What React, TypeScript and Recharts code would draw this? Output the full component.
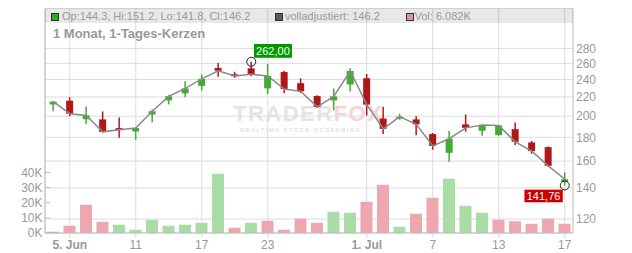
import React from 'react';
import { ComposedChart, Bar, Line, XAxis, YAxis, CartesianGrid, Cell, ReferenceDot, Text } from 'recharts';

// ---- data ----
const dates = [
  '2025-06-04', '2025-06-05', '2025-06-06', '2025-06-09', '2025-06-10', '2025-06-11', '2025-06-12', '2025-06-13',
  '2025-06-16', '2025-06-17', '2025-06-18', '2025-06-19', '2025-06-20', '2025-06-23', '2025-06-24', '2025-06-25',
  '2025-06-26', '2025-06-27', '2025-06-30', '2025-07-01', '2025-07-02', '2025-07-03', '2025-07-04', '2025-07-07',
  '2025-07-08', '2025-07-09', '2025-07-10', '2025-07-11', '2025-07-14', '2025-07-15', '2025-07-16', '2025-07-17',
];
const opens = [212, 216, 197, 196.8, 188.5, 185.4, 201.7, 216.3, 224, 232.5, 254, 246.2, 253.6, 229.6, 249, 235.6,
  221, 216.3, 234.1, 241.5, 197.7, 198.5, 196.8, 183, 166.7, 192, 186, 182, 187.5, 175.5, 171.5, 144.3];
const highs = [215.5, 219.6, 209.8, 204.7, 198.7, 189, 206.7, 222.5, 238, 246, 260.4, 249.4, 262, 259, 250.6, 241.5,
  222, 229.6, 253.6, 246.6, 209.6, 202.5, 200, 183.9, 185.7, 201.7, 192, 191.5, 193.9, 176.8, 172, 151.2];
const lows = [205, 200, 192.2, 184.5, 179.6, 178, 194.1, 212, 219.6, 227.3, 243.3, 242, 243.8, 223.3, 224, 224.4,
  208.3, 206, 226.2, 200.7, 183, 196.5, 182, 169.2, 159.5, 185, 181.4, 181.4, 173.4, 165.9, 155.5, 141.76];
const closes = [215, 202.5, 200.7, 185, 186.9, 188.5, 205, 220.7, 229.6, 240.7, 250.6, 244.2, 246.2, 244.2, 228.9, 226.2,
  209.4, 220.7, 250.3, 211.8, 187.8, 199.5, 192, 172.6, 178.8, 188.7, 191.5, 191, 176.1, 168.1, 156.3, 146.2];
const volumes = [900, 4800, 18700, 7500, 5500, 2200, 8800, 4800, 5500, 6800, 39100, 3500, 6800, 8100, 2200, 9400,
  6800, 14100, 13400, 20700, 31900, 4200, 12700, 23300, 35800, 18000, 13400, 8800, 7700, 6100, 9400, 6082];

const priceTicks = [120, 140, 160, 180, 200, 220, 240, 260, 280];
const volumeTicks = [0, 10000, 20000, 30000, 40000];
const tickDates = ['2025-06-05', '2025-06-11', '2025-06-17', '2025-06-23', '2025-07-01', '2025-07-07', '2025-07-11', '2025-07-17'];
const tickLabels = ['5. Jun', '11', '17', '23', '1. Jul', '7', '13', '17'];

const data = dates.map((date, i) => ({
  date,
  open: opens[i],
  high: highs[i],
  low: lows[i],
  close: closes[i],
  vol: volumes[i],
}));

// ---- styles ----
const FONT = "'Liberation Sans', Arial, sans-serif";
const GREEN = '#44a935';
const RED = '#b01818';
const VOL_GREEN = '#aadca6';
const VOL_RED = '#eea7af';
const VOL_NEUTRAL = '#b4b4b4';
const TEXT = '#999';

const volColor = (i: number) => {
  if (i === 0) return VOL_NEUTRAL;
  return closes[i] >= closes[i - 1] ? VOL_GREEN : VOL_RED;
};

const Candle = (props: any) => {
  const { x, y, width, height, payload } = props;
  if (x == null || y == null) return null;
  const { open, close, high, low } = payload;
  const yHigh = Math.min(y, y + height);
  const yLow = Math.max(y, y + height);
  const lh = Math.log(high);
  const ll = Math.log(low);
  const toY = (v: number) => yHigh + ((yLow - yHigh) * (lh - Math.log(v))) / (lh - ll);
  const cx = x + width / 2;
  const up = close >= open;
  const color = up ? GREEN : RED;
  const top = toY(Math.max(open, close));
  const bot = toY(Math.min(open, close));
  const bw = 7;
  return (
    <g>
      <line x1={cx} x2={cx} y1={yHigh} y2={yLow} stroke={color} strokeWidth={1.5} />
      <rect x={cx - bw / 2} y={top} width={bw} height={Math.max(bot - top, 2)} fill={color} />
    </g>
  );
};

const fmt = (v: number) => v.toFixed(2).replace('.', ',');

const maxIdx = highs.indexOf(Math.max(...highs));
const minIdx = lows.indexOf(Math.min(...lows));

const HiMarker = (p: any) => {
  const { cx, cy } = p;
  return (
    <g>
      <circle cx={cx} cy={cy} r={4.5} fill="none" stroke="#222" strokeWidth={1} />
      <rect x={cx + 2.7} y={cy - 17.8} width={38} height={13.8} fill="#009a00" />
      <text x={cx + 21.7} y={cy - 7} textAnchor="middle" fontSize={11} fill="#fff" fontFamily={FONT}>
        {fmt(highs[maxIdx])}
      </text>
    </g>
  );
};

const LoMarker = (p: any) => {
  const { cx, cy } = p;
  return (
    <g>
      <circle cx={cx} cy={cy} r={4.5} fill="none" stroke="#222" strokeWidth={1} />
      <rect x={cx - 40.3} y={cy + 4.2} width={38.3} height={12.6} fill="#cc0000" />
      <text x={cx - 21.2} y={cy + 14.3} textAnchor="middle" fontSize={11} fill="#fff" fontFamily={FONT}>
        {fmt(lows[minIdx])}
      </text>
    </g>
  );
};

const XTick = (props: any) => {
  const { x, y, payload, textAnchor, verticalAnchor } = props;
  const i = tickDates.indexOf(payload.value);
  const label = i >= 0 ? tickLabels[i] : '';
  const bold = label.includes('.');
  return (
    <Text x={x} y={y} textAnchor={textAnchor || 'middle'} verticalAnchor={verticalAnchor || 'start'}
      fontSize={12} fill={TEXT} fontWeight={bold ? 'bold' : 'normal'} fontFamily={FONT}>
      {label}
    </Text>
  );
};

const Square = ({ left, color }: { left: number; color: string }) => (
  <div style={{ position: 'absolute', left, top: 12.5, width: 6, height: 6, background: color, border: '1px solid #333' }} />
);

export default function App() {
  const W = 632;
  const H = 253;
  return (
    <div style={{ position: 'absolute', left: 0, top: 0, width: W, height: H, background: '#fff', fontFamily: FONT, overflow: 'hidden' }}>
      {/* watermark */}
      <div style={{ position: 'absolute', left: 233, top: 102, height: 24, lineHeight: '24px', zIndex: 0, whiteSpace: 'nowrap', fontWeight: 'bold', fontSize: 22, letterSpacing: 1.5 }}>
        <span style={{ color: '#e4e4e4' }}>TRADER</span>
        <span style={{ color: '#f8d2d6' }}>FOX</span>
      </div>
      <div style={{ position: 'absolute', left: 240, top: 127, height: 7, lineHeight: '7px', zIndex: 0, whiteSpace: 'nowrap', fontSize: 6, letterSpacing: 1.3, color: '#e2e2e2', fontWeight: 'bold' }}>
        REALTIME STOCK SCREENING
      </div>

      <div style={{ position: 'relative', zIndex: 1 }}>
        <ComposedChart width={W} height={H} data={data} margin={{ top: 8.5, right: 0, bottom: 0, left: 0 }}>
          <CartesianGrid xAxisId="x" yAxisId="price" stroke="#dcdcdc" />
          <XAxis xAxisId="x" dataKey="date" ticks={tickDates} interval={0} height={20}
            tickSize={4} tickMargin={3} axisLine={{ stroke: '#bdbdbd' }} tickLine={{ stroke: '#d0d0d0' }}
            tick={(p: any) => <XTick {...p} />} />
          <YAxis yAxisId="vol" orientation="left" width={45} domain={[0, 148200]} ticks={volumeTicks} interval={0}
            allowDataOverflow tickFormatter={(v: number) => `${v / 1000}K`} axisLine={{ stroke: '#bdbdbd' }}
            tickLine={{ stroke: '#bdbdbd' }} tickSize={-5} tickMargin={7.5}
            tick={{ fill: TEXT, fontSize: 12, fontFamily: FONT }} />
          <YAxis yAxisId="price" orientation="right" width={59} scale="log" domain={[111.95, 341.4]} ticks={priceTicks}
            interval={0} allowDataOverflow axisLine={{ stroke: '#cccccc' }} tickLine={false} tickSize={0} tickMargin={3}
            tick={{ fill: TEXT, fontSize: 12, fontFamily: FONT }} />
          <XAxis xAxisId="p" dataKey="date" hide height={0} />
          <Bar xAxisId="x" yAxisId="vol" dataKey="vol" barSize={12} isAnimationActive={false}>
            {data.map((d, i) => (
              <Cell key={d.date} fill={volColor(i)} />
            ))}
          </Bar>
          <Line xAxisId="p" yAxisId="price" dataKey="close" type="linear" stroke="#8a8a8a" strokeWidth={1.5}
            dot={false} activeDot={false} isAnimationActive={false} />
          <Bar xAxisId="p" yAxisId="price" dataKey={(d: any) => [d.low, d.high]} isAnimationActive={false}
            shape={(p: any) => <Candle {...p} />} />
          <ReferenceDot xAxisId="p" yAxisId="price" x={dates[maxIdx]} y={highs[maxIdx]} r={4.5}
            shape={(p: any) => <HiMarker {...p} />} />
          <ReferenceDot xAxisId="p" yAxisId="price" x={dates[minIdx]} y={lows[minIdx]} r={4.5}
            shape={(p: any) => <LoMarker {...p} />} />
        </ComposedChart>
      </div>

      {/* header band */}
      <div style={{ position: 'absolute', left: 45, top: 8, width: 528, height: 15, boxSizing: 'border-box', borderTop: '1px solid #cfcfcf', background: 'rgba(0,0,0,0.09)', zIndex: 2 }} />
      <Square left={50.5} color="#33bb22" />
      <div style={{ position: 'absolute', left: 62, top: 9, height: 14, lineHeight: '14px', fontSize: 11, color: TEXT, zIndex: 3, whiteSpace: 'nowrap' }}>
        Op:144.3, Hi:151.2, Lo:141.8, Cl:146.2
      </div>
      <Square left={274.5} color="#666" />
      <div style={{ position: 'absolute', left: 285, top: 9, height: 14, lineHeight: '14px', fontSize: 11, color: TEXT, zIndex: 3, whiteSpace: 'nowrap' }}>
        volladjustiert: 146.2
      </div>
      <Square left={405.5} color={VOL_RED} />
      <div style={{ position: 'absolute', left: 414.5, top: 9, height: 14, lineHeight: '14px', fontSize: 11, color: TEXT, zIndex: 3, whiteSpace: 'nowrap' }}>
        Vol: 6.082K
      </div>
      <div style={{ position: 'absolute', left: 53, top: 25.5, lineHeight: '15px', fontSize: 13, fontWeight: 'bold', color: TEXT, zIndex: 3, whiteSpace: 'nowrap' }}>
        1 Monat, 1-Tages-Kerzen
      </div>
    </div>
  );
}
